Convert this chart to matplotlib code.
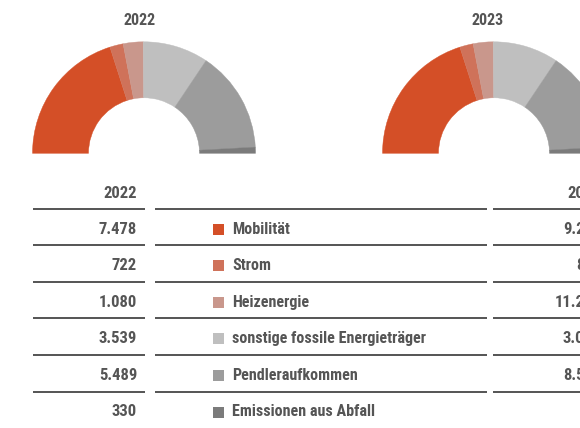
import matplotlib
matplotlib.use("Agg")
import matplotlib.pyplot as plt
import matplotlib.font_manager as fm
from matplotlib.patches import Wedge, Rectangle

# CO2 emissions by source (t CO2e)
categories = ["Mobilität", "Strom", "Heizenergie",
              "sonstige fossile Energieträger", "Pendleraufkommen",
              "Emissionen aus Abfall"]
values_2022 = [7478, 722, 1080, 3539, 5489, 330]
values_2023 = [9236, 815, 11245, 3047, 8512, None]
# shares shown in the 2023 half ring (percent)
ring_2023 = [40.1, 3.9, 5.8, 19.0, 29.4, 1.8]
years = ["2022", "2023"]

colors = ["#D44F27", "#CF725A", "#C9978C", "#BFBFBF", "#9C9C9C", "#7B7B7B"]
text_color = "#555555"
rule_color = "#262626"


def narrow_font():
    """Pick a narrow bold face if one is installed."""
    entries = fm.fontManager.ttflist
    names = {f.name for f in entries}
    for n in ["Liberation Sans Narrow", "Roboto Condensed", "Arial Narrow",
              "Open Sans Condensed", "Noto Sans Condensed"]:
        if n in names:
            return dict(family=[n, "DejaVu Sans"])
    for pref in ("condensed", "semi-condensed", "extra-condensed"):
        for f in entries:
            if str(f.stretch) == pref:
                return dict(family=[f.name, "DejaVu Sans"], fontstretch=pref)
    return dict(family=["DejaVu Sans"])


font = narrow_font()


def fmt(v):
    if v is None:
        return ""
    return f"{v:,}".replace(",", ".")


fig = plt.figure(figsize=(5.8, 4.28), dpi=100)
ax = fig.add_axes([0, 0, 1, 1])
ax.set_xlim(0, 580)
ax.set_ylim(428, 0)
ax.set_aspect('equal')
ax.axis('off')


def half_ring(cx, cy, data, r_out=111.5, width=56):
    total = sum(data)
    start = 180.0
    for val, col in zip(data, colors):
        span = 180.0 * val / total
        ax.add_patch(Wedge((cx, cy), r_out, start, start + span, width=width,
                           facecolor=col, edgecolor=col, linewidth=0.3))
        start += span


half_ring(144, 153.3, values_2022)
half_ring(494, 153.3, ring_2023)

title_kw = dict(fontsize=11.5, fontweight='bold', color=text_color,
                ha='center', va='center', **font)
ax.text(140, 20.5, years[0], **title_kw)
ax.text(488, 20.5, years[1], **title_kw)

# table
num_kw = dict(fontsize=12, fontweight='bold', color=text_color,
              ha='right', va='center', **font)
right_col_x = 601
ax.text(137, 193, years[0], **num_kw)
ax.text(right_col_x, 193, years[1], **num_kw)

line_y0 = 208.5
step = 36.6
for i in range(len(categories)):
    y_rule = line_y0 + i * step
    ax.hlines(y_rule, 33, 145, color=rule_color, linewidth=1.1)
    ax.hlines(y_rule, 155, 487, color=rule_color, linewidth=1.1)
    ax.hlines(y_rule, 493, 610, color=rule_color, linewidth=1.1)

for i, (cat, v22, v23, col) in enumerate(zip(categories, values_2022,
                                             values_2023, colors)):
    yc = line_y0 + 20.5 + i * step
    ax.text(137, yc, fmt(v22), **num_kw)
    ax.text(right_col_x, yc, fmt(v23), **num_kw)
    ax.add_patch(Rectangle((212.5, yc - 5.5), 11, 11, facecolor=col,
                           edgecolor='none'))
    ax.text(232, yc, cat, fontsize=11.6, fontweight='bold', color=text_color,
            ha='left', va='center', **font)

fig.savefig("out.png", dpi=100, facecolor='white')
